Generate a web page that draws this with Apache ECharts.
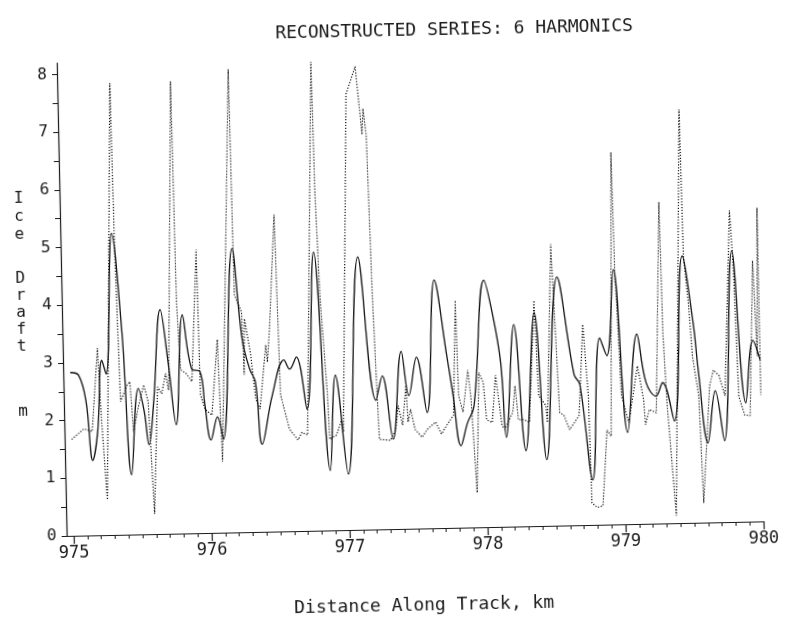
<!DOCTYPE html>
<html>
<head>
<meta charset="utf-8">
<script src="https://cdn.jsdelivr.net/npm/echarts@6/dist/echarts.min.js"></script>
<style>
html,body{margin:0;padding:0;background:#fff;overflow:hidden;}
#chart{width:791px;height:621px;transform:rotate(-1.2deg);transform-origin:50% 50%;}
</style>
</head>
<body>
<div id="chart"></div>
<script>
// Tick labels
const xTickLabels = [975, 976, 977, 978, 979, 980];
const yTickLabels = [0, 1, 2, 3, 4, 5, 6, 7, 8];

// Reconstructed series (6 harmonics) - solid line
const solidKm = [975.00,975.06,975.11,975.15,975.19,975.23,975.26,975.32,975.38,975.43,975.49,975.53,975.56,975.60,975.66,975.71,975.76,975.82,975.88,975.94,975.97,976.01,976.06,976.10,976.19,976.25,976.30,976.34,976.38,976.46,976.55,976.59,976.64,976.71,976.78,976.87,976.92,977.00,977.10,977.21,977.26,977.33,977.40,977.45,977.51,977.58,977.65,977.73,977.77,977.82,977.87,977.92,978.01,978.07,978.12,978.15,978.22,978.29,978.37,978.44,978.54,978.65,978.69,978.77,978.84,978.89,978.95,979.03,979.11,979.17,979.24,979.29,979.37,979.45,979.52,979.55,979.61,979.67,979.73,979.81,979.89,979.95,980.00];
const solidDraft = [2.83,2.78,2.32,1.30,1.80,3.03,2.79,5.23,3.52,1.04,2.53,2.13,1.55,2.29,3.89,2.98,1.89,3.79,2.85,2.80,2.23,1.61,2.01,1.62,4.92,3.35,2.83,2.60,1.52,2.36,2.97,2.81,3.02,2.11,4.83,1.04,2.69,0.97,4.73,2.24,2.66,1.56,3.08,2.31,2.97,2.01,4.30,2.99,2.30,1.42,1.81,2.10,4.28,3.66,2.84,1.55,3.50,1.31,3.70,1.15,4.31,2.61,2.44,0.78,3.24,2.93,4.42,1.59,3.29,2.45,2.21,2.44,1.77,4.63,3.47,2.65,1.38,2.28,1.41,4.70,2.06,3.14,2.80];

// Original measured series - dotted line
const dottedKm = [975.00,975.09,975.15,975.20,975.22,975.25,975.33,975.34,975.36,975.41,975.43,975.45,975.49,975.53,975.56,975.59,975.63,975.66,975.69,975.71,975.77,975.78,975.80,975.84,975.88,975.93,975.94,975.97,976.02,976.07,976.09,976.19,976.20,976.25,976.26,976.27,976.31,976.34,976.37,976.42,976.43,976.45,976.50,976.52,976.58,976.64,976.67,976.71,976.79,976.80,976.82,976.86,976.87,976.92,976.96,976.97,977.04,977.11,977.15,977.16,977.18,977.20,977.22,977.23,977.31,977.35,977.37,977.40,977.43,977.44,977.46,977.49,977.54,977.58,977.64,977.68,977.72,977.77,977.80,977.81,977.84,977.88,977.90,977.93,977.96,977.99,978.01,978.05,978.08,978.12,978.14,978.20,978.22,978.24,978.28,978.32,978.37,978.39,978.44,978.45,978.50,978.54,978.57,978.61,978.68,978.72,978.75,978.76,978.80,978.84,978.88,978.91,978.95,978.96,978.99,979.04,979.11,979.15,979.16,979.19,979.24,979.29,979.30,979.32,979.37,979.45,979.46,979.49,979.51,979.55,979.57,979.63,979.66,979.70,979.74,979.80,979.82,979.84,979.88,979.92,979.96,979.98,980.00,980.00];
const dottedDraft = [1.67,1.85,1.80,3.24,1.97,0.61,7.83,4.92,2.31,2.59,2.65,1.78,2.23,2.59,2.30,0.35,2.55,2.43,2.78,2.49,7.84,4.02,2.84,2.77,2.63,4.92,2.40,2.15,2.04,3.35,1.23,8.03,4.12,3.82,2.73,3.70,3.07,2.31,2.13,3.24,2.94,3.52,5.49,2.37,1.77,1.58,1.71,1.66,8.13,5.82,4.09,2.35,1.58,1.65,1.92,1.70,7.56,8.03,6.85,7.30,6.84,4.06,2.33,1.56,1.54,1.73,2.14,1.80,2.49,1.85,2.07,1.72,1.58,1.72,1.84,1.63,1.78,1.95,3.94,2.29,2.00,2.73,2.22,0.60,2.68,2.51,1.86,1.81,2.63,1.76,1.69,1.98,2.44,1.85,1.85,1.80,3.91,2.26,2.09,1.79,4.88,1.96,1.91,1.66,1.90,3.48,2.24,0.38,0.30,0.33,1.64,1.53,6.45,4.42,2.23,1.76,2.74,2.15,1.72,1.98,1.92,5.57,3.26,2.04,0.13,7.17,4.63,3.77,2.90,2.20,0.34,2.37,2.64,2.54,2.19,5.40,4.37,2.18,1.85,1.84,4.52,2.87,5.44,2.19];

const xMinorTicks = [];
for (let i = 0; i <= 50; i++) xMinorTicks.push(Math.round((975 + i * 0.1) * 10) / 10);
const yHalfTicks = [];
for (let i = 0; i <= 16; i++) yHalfTicks.push(i * 0.5);

const FONT = '"DejaVu Sans Mono", monospace';
const INK = '#1a1a1a';

const chart = echarts.init(document.getElementById('chart'), null, {renderer: 'canvas'});
chart.setOption({
  animation: false,
  backgroundColor: '#fff',
  grid: {left: 62, right: 32, top: 56, bottom: 92, containLabel: false},
  xAxis: [{
    type: 'value', min: 974.949, max: 980, position: 'bottom',
    axisLine: {show: true, lineStyle: {color: INK, width: 1.2}},
    axisTick: {show: true, customValues: xTickLabels, length: 8, lineStyle: {color: INK, width: 1.2}},
    axisLabel: {show: true, customValues: xTickLabels, margin: 9, color: INK, fontFamily: FONT, fontSize: 17},
    splitLine: {show: false}
  }, {
    type: 'value', min: 974.949, max: 980, position: 'bottom', offset: 0,
    axisLine: {show: false},
    axisTick: {show: true, customValues: xMinorTicks, length: 4, lineStyle: {color: INK, width: 1}},
    axisLabel: {show: false},
    splitLine: {show: false}
  }],
  yAxis: {
    type: 'value', min: 0, max: 8.2,
    axisLine: {show: true, lineStyle: {color: INK, width: 1.2}},
    axisTick: {show: true, customValues: yHalfTicks, length: 5, lineStyle: {color: INK, width: 1}},
    axisLabel: {show: true, customValues: yTickLabels, margin: 10, color: INK, fontFamily: FONT, fontSize: 16},
    splitLine: {show: false}
  },
  graphic: [
    {type: 'text', x: 460, y: 31, style: {text: 'RECONSTRUCTED SERIES: 6 HARMONICS', fill: INK, font: '18px ' + FONT, textAlign: 'center', textVerticalAlign: 'middle'}},
    {type: 'text', x: 418, y: 606, style: {text: 'Distance Along Track, km', fill: INK, font: '18px ' + FONT, textAlign: 'center', textVerticalAlign: 'middle'}},
    {type: 'text', x: 21, y: 182, style: {text: 'I\nc\ne', fill: INK, font: '16px ' + FONT, textAlign: 'center', lineHeight: 18}},
    {type: 'text', x: 21, y: 262, style: {text: 'D\nr\na\nf\nt', fill: INK, font: '16px ' + FONT, textAlign: 'center', lineHeight: 17}},
    {type: 'text', x: 21, y: 395, style: {text: 'm', fill: INK, font: '16px ' + FONT, textAlign: 'center', lineHeight: 18}}
  ],
  series: [{
    name: 'Original', type: 'line', xAxisIndex: 0, showSymbol: false, smooth: false,
    data: dottedKm.map((k, i) => [k, dottedDraft[i]]),
    lineStyle: {color: '#000', width: 1.15, type: [1.2, 1.7]}
  }, {
    name: 'Reconstructed', type: 'line', xAxisIndex: 0, showSymbol: false, smooth: 0.4,
    data: solidKm.map((k, i) => [k, solidDraft[i]]),
    lineStyle: {color: '#111', width: 1.3}
  }]
});
</script>
</body>
</html>
